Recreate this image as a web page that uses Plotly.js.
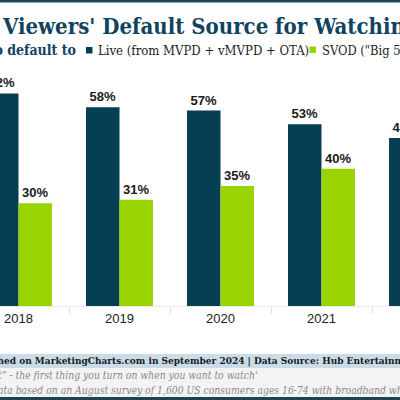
<!DOCTYPE html>
<html>
<head>
<meta charset="utf-8">
<script src="https://cdn.plot.ly/plotly-3.0.1.min.js"></script>
<style>
html,body{margin:0;padding:0;background:#fff;overflow:hidden;}
#wrap{position:relative;width:400px;height:400px;overflow:hidden;}
#chart{position:absolute;top:0;left:-60px;width:520px;height:400px;}
</style>
</head>
<body>
<div id="wrap"><div id="chart"></div></div>
<script>
const categories = ['2018', '2019', '2020', '2021', '2022'];
const liveValues = [62, 58, 57, 53, 49];
const svodValues = [30, 31, 35, 40, null];
const seriesNames = ['Live (from MVPD + vMVPD + OTA)', 'SVOD ("Big 5" services)'];
const titleText = "Viewers' Default Source for Watching TV";
const legendTitle = 'Those who default to';
const sourceText = 'Published on MarketingCharts.com in September 2024 | Data Source: Hub Entertainment Research';
const noteText = 'Note: "Default\u201D - the first thing you turn on when you want to watch\'';
const methodText = 'Methodology: Data based on an August survey of 1,600 US consumers ages 16-74 with broadband who watch TV';

const colors = ['#063f52', '#99d400'];
const serifName = 'DejaVu Serif Condensed';
const serif = serifName + ', DejaVu Serif, serif';
const sans = 'Liberation Sans, Arial, sans-serif';

// visible window is 400 px; chart is 520 px wide, shifted 60 px left
const OX = 60, CW = 520, PT = 66, PB = 306;
const px = x => (x + OX) / CW;
const py = y => (PB - y) / (PB - PT);

const ctx = document.createElement('canvas').getContext('2d');
function textWidth(str, size, weight, style) {
  ctx.font = (style || 'normal') + ' ' + (weight || 'normal') + ' ' + size + 'px "' + serifName + '"';
  return ctx.measureText(str).width;
}

const footSize = 10.3;
const sourceSize = 10;
const sourceX = -textWidth('Publis', sourceSize, 'bold') - 5;
const methodX = -textWidth('Methodology: Da', footSize, 'normal', 'italic') + 0.5;

const traces = [liveValues, svodValues].map((vals, i) => ({
  type: 'bar',
  name: seriesNames[i],
  x: categories,
  y: vals,
  marker: {color: colors[i]},
  texttemplate: '%{y}%',
  textposition: 'outside',
  cliponaxis: false,
  textfont: {family: sans, size: 13, weight: 700, color: '#1a1a1a'},
  showlegend: false,
  hoverinfo: 'skip'
}));

const band = (y0, y1, c) => ({type: 'rect', xref: 'paper', yref: 'paper', x0: px(-OX), x1: px(CW - OX), y0: py(y0), y1: py(y1), fillcolor: c, line: {width: 0}});
const shapes = [
  band(-5, 2.5, '#1b4a5e'),
  band(354, 368, '#c9dce7'),
  band(368, 397, '#f3f3f3'),
  band(397, 405, '#1e4453'),
  {type: 'rect', xref: 'paper', yref: 'paper', x0: px(86), x1: px(92.5), y0: py(47), y1: py(53.5), fillcolor: colors[0], line: {width: 0}},
  {type: 'rect', xref: 'paper', yref: 'paper', x0: px(309.5), x1: px(316), y0: py(46.5), y1: py(53), fillcolor: colors[1], line: {width: 0}}
];

const ann = (text, x, y, xanchor, font) => ({text, xref: 'paper', yref: 'paper', x: px(x), y: py(y), xanchor, yanchor: 'middle', showarrow: false, font});
const annotations = [
  ann(legendTitle, 78, 50, 'right', {family: serif, size: 14, weight: 700, color: '#0f4360'}),
  ann(seriesNames[0], 96, 50, 'left', {family: serif, size: 13, color: '#222'}),
  ann(seriesNames[1], 320, 50, 'left', {family: serif, size: 12.8, color: '#222'}),
  ann(sourceText, sourceX, 361, 'left', {family: serif, size: sourceSize, weight: 700, color: '#1a1a1a'}),
  ann(noteText, 260, 374.5, 'right', {family: serif, size: footSize, style: 'italic', color: '#8a8a8a'}),
  ann(methodText, methodX, 389.5, 'left', {family: serif, size: footSize, style: 'italic', color: '#8a8a8a'})
];

const spacing = 101;           // px per category
const start = -(18.5 + OX) / spacing;
const layout = {
  width: CW, height: 400,
  margin: {l: 0, r: 0, t: PT, b: 400 - PB, pad: 0},
  paper_bgcolor: '#ffffff', plot_bgcolor: '#ffffff',
  title: {text: titleText, x: px(3), xanchor: 'left', xref: 'paper', y: 1 - 26 / 400, yref: 'container', yanchor: 'middle',
          font: {family: serif, size: 22, weight: 700, color: '#0f4360'}},
  barmode: 'group', bargap: 0.337, bargroupgap: 0,
  xaxis: {type: 'category', categoryorder: 'array', categoryarray: categories,
          range: [start, start + CW / spacing], showgrid: false, zeroline: false,
          showline: true, linecolor: '#ececec', linewidth: 1,
          ticks: 'outside', tickson: 'boundaries', ticklen: 7, tickcolor: '#e3e3e3', tickwidth: 1,
          tickfont: {family: sans, size: 13, color: '#222'}, fixedrange: true},
  yaxis: {range: [0, 70], visible: false, showgrid: false, zeroline: false, fixedrange: true},
  shapes: shapes,
  annotations: annotations,
  showlegend: false
};

Plotly.newPlot('chart', traces, layout, {displayModeBar: false, staticPlot: true});
</script>
</body>
</html>
